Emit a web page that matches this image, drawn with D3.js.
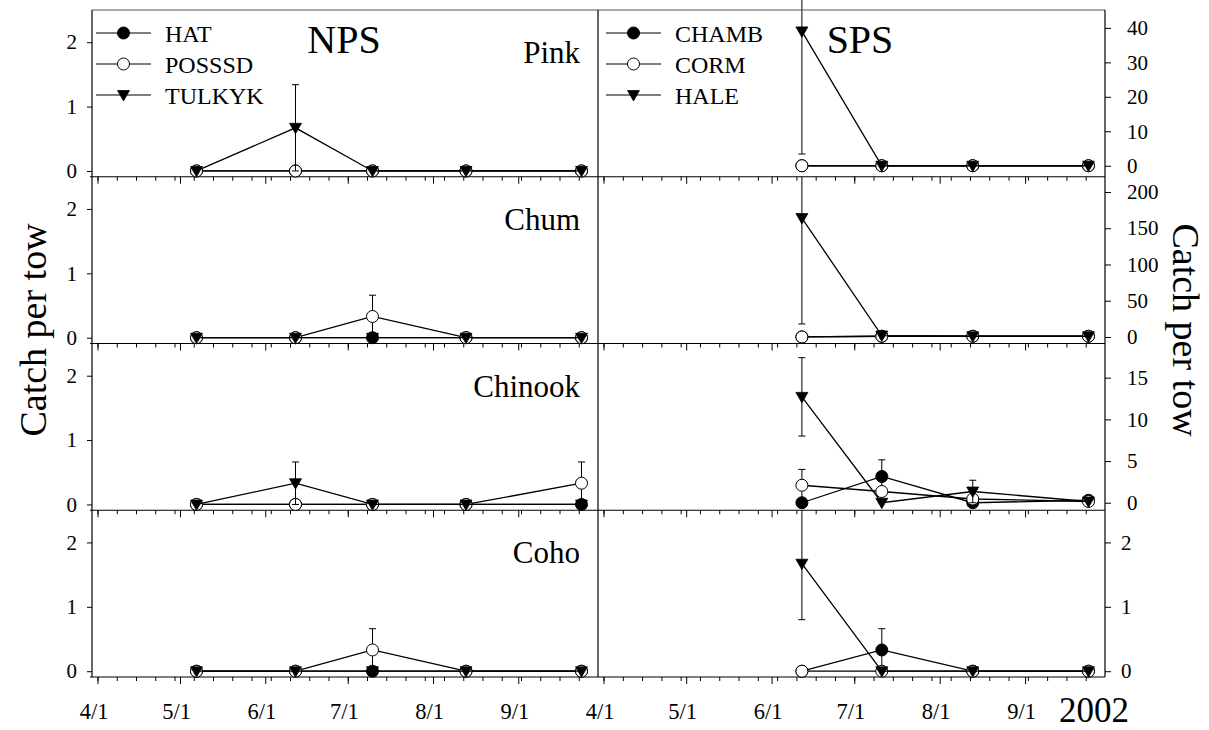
<!DOCTYPE html>
<html>
<head>
<meta charset="utf-8">
<script src="https://cdn.jsdelivr.net/npm/d3@7"></script>
<style>
  body { margin: 0; background: #fff; }
</style>
</head>
<body>
<svg id="chart" width="1209" height="730"></svg>
<script>
// sampling dates
var npsDates = ["2002-05-07", "2002-06-12", "2002-07-10", "2002-08-13", "2002-09-24"];
var spsDates = ["2002-06-12", "2002-07-11", "2002-08-13", "2002-09-24"];

var species = ["Pink", "Chum", "Chinook", "Coho"];
var npsSites = ["HAT", "POSSSD", "TULKYK"];
var spsSites = ["CHAMB", "CORM", "HALE"];

// NPS means and SE, one row per site (HAT, POSSSD, TULKYK)
var pinkNpsMean = [[0, 0, 0, 0, 0], [0, 0, 0, 0, 0], [0, 0.67, 0, 0, 0]];
var pinkNpsSE   = [[0, 0, 0, 0, 0], [0, 0, 0, 0, 0], [0, 0.67, 0, 0, 0]];
var chumNpsMean = [[0, 0, 0, 0, 0], [0, 0, 0.33, 0, 0], [0, 0, 0, 0, 0]];
var chumNpsSE   = [[0, 0, 0, 0, 0], [0, 0, 0.33, 0, 0], [0, 0, 0, 0, 0]];
var chinNpsMean = [[0, 0, 0, 0, 0], [0, 0, 0, 0, 0.33], [0, 0.33, 0, 0, 0]];
var chinNpsSE   = [[0, 0, 0, 0, 0], [0, 0, 0, 0, 0.33], [0, 0.33, 0, 0, 0]];
var cohoNpsMean = [[0, 0, 0, 0, 0], [0, 0, 0.33, 0, 0], [0, 0, 0, 0, 0]];
var cohoNpsSE   = [[0, 0, 0, 0, 0], [0, 0, 0.33, 0, 0], [0, 0, 0, 0, 0]];

// SPS means and SE, one row per site (CHAMB, CORM, HALE)
var pinkSpsMean = [[0, 0, 0, 0], [0, 0, 0, 0], [39, 0, 0, 0]];
var pinkSpsSE   = [[0, 0, 0, 0], [0, 0, 0, 0], [35.6, 0, 0, 0]];
var chumSpsMean = [[0, 1, 1, 1], [0, 1, 1, 1], [164, 2, 1, 1]];
var chumSpsSE   = [[0, 0, 0, 0], [0, 0, 0, 0], [146, 0, 0, 0]];
var chinSpsMean = [[0, 3.15, 0, 0.3], [2.1, 1.35, 0.45, 0.15], [12.7, 0, 1.35, 0.15]];
var chinSpsSE   = [[0, 2, 0, 0], [1.9, 0, 0, 0], [4.7, 0, 1.35, 0]];
var cohoSpsMean = [[0, 0.33, 0, 0], [0, 0, 0, 0], [1.67, 0, 0, 0]];
var cohoSpsSE   = [[0, 0.33, 0, 0], [0, 0, 0, 0], [0.87, 0, 0, 0]];

// y axis domains and ticks
var npsDomain = [-0.09, 2.5];
var npsTicks = [0, 1, 2];
var spsDomains = [[-3.2, 45.2], [-9, 221], [-0.9, 19.1], [-0.09, 2.5]];
var spsTicks = [[0, 10, 20, 30, 40], [0, 50, 100, 150, 200], [0, 5, 10, 15], [0, 1, 2]];

var monthTicks = ["2002-04-01", "2002-05-01", "2002-06-01", "2002-07-01", "2002-08-01", "2002-09-01"];

var npsMeans = [pinkNpsMean, chumNpsMean, chinNpsMean, cohoNpsMean];
var npsSEs = [pinkNpsSE, chumNpsSE, chinNpsSE, cohoNpsSE];
var spsMeans = [pinkSpsMean, chumSpsMean, chinSpsMean, cohoSpsMean];
var spsSEs = [pinkSpsSE, chumSpsSE, chinSpsSE, cohoSpsSE];

var FONT = "'Liberation Serif', 'Times New Roman', Times, serif";
var parse = d3.timeParse("%Y-%m-%d");
var svg = d3.select("#chart");

var top0 = 10, rowH = 166.75;
var leftX = [92, 598], rightX = [598, 1105];
var xDomain = [new Date(2002, 2, 30), new Date(2002, 8, 30)];

var xLeft = d3.scaleTime().domain(xDomain).range(leftX);
var xRight = d3.scaleTime().domain(xDomain).range(rightX);

var months = monthTicks.map(parse);
var weeks = d3.timeMonday.range(new Date(2002, 3, 1), new Date(2002, 8, 30));

var triangle = d3.symbol().type(d3.symbolTriangle).size(62);
var clipId = 0;

function drawMarker(g, kind, cx, cy) {
  if (kind == 0) {
    g.append("circle").attr("cx", cx).attr("cy", cy).attr("r", 6)
      .attr("fill", "#000").attr("stroke", "#000");
  } else if (kind == 1) {
    g.append("circle").attr("cx", cx).attr("cy", cy).attr("r", 6)
      .attr("fill", "#fff").attr("stroke", "#000").attr("stroke-width", 1);
  } else {
    g.append("path").attr("d", triangle)
      .attr("transform", "translate(" + cx + "," + (cy - 1) + ") rotate(180)")
      .attr("fill", "#000").attr("stroke", "#000").attr("stroke-width", 0.8);
  }
}

function drawPanel(x, y, dates, means, ses, clipTop, clipBottom) {
  var g = svg.append("g");
  var id = "clip" + (clipId++);
  svg.append("clipPath").attr("id", id).append("rect")
    .attr("x", 0).attr("y", clipTop).attr("width", 1209).attr("height", clipBottom - clipTop);
  var xs = dates.map(parse);
  means.forEach(function(vals, s) {
    // error bars
    var eg = g.append("g").attr("clip-path", "url(#" + id + ")");
    vals.forEach(function(v, i) {
      var se = ses[s][i];
      if (!se) return;
      var px = x(xs[i]);
      eg.append("line").attr("x1", px).attr("x2", px)
        .attr("y1", y(v - se)).attr("y2", y(v + se))
        .attr("stroke", "#000").attr("stroke-width", 1);
      [v - se, v + se].forEach(function(e) {
        eg.append("line").attr("x1", px - 3.5).attr("x2", px + 3.5)
          .attr("y1", y(e)).attr("y2", y(e))
          .attr("stroke", "#000").attr("stroke-width", 1);
      });
    });
    var line = d3.line()
      .x(function(d, i) { return x(xs[i]); })
      .y(function(d) { return y(d); });
    g.append("path").attr("d", line(vals))
      .attr("fill", "none").attr("stroke", "#000").attr("stroke-width", 1.3);
    vals.forEach(function(v, i) {
      drawMarker(g, s, x(xs[i]), y(v));
    });
  });
}

function styleAxis(g, size) {
  g.select(".domain").remove();
  g.attr("font-family", null);
  g.selectAll(".tick line").attr("stroke", "#000");
  g.selectAll(".tick text").style("font-size", size + "px");
}

species.forEach(function(sp, r) {
  var y0 = top0 + r * rowH, y1 = y0 + rowH;

  var yL = d3.scaleLinear().domain(npsDomain).range([y1, y0]);
  var yR = d3.scaleLinear().domain(spsDomains[r]).range([y1, y0]);

  // y axes
  var gl = svg.append("g").attr("transform", "translate(" + leftX[0] + ",0)")
    .call(d3.axisLeft(yL).tickValues(npsTicks).tickSize(5).tickPadding(10).tickFormat(d3.format("d")));
  styleAxis(gl, 21);
  var gr = svg.append("g").attr("transform", "translate(" + rightX[1] + ",0)")
    .call(d3.axisRight(yR).tickValues(spsTicks[r]).tickSize(6).tickPadding(r == 3 ? 10 : 16).tickFormat(d3.format("d")));
  styleAxis(gr, 21);

  // x axes at bottom of each row
  [xLeft, xRight].forEach(function(x) {
    var gm = svg.append("g").attr("transform", "translate(0," + y1 + ")")
      .call(d3.axisBottom(x).tickValues(weeks).tickSize(4).tickFormat(""));
    styleAxis(gm, 19);
    var gM = svg.append("g").attr("transform", "translate(0," + y1 + ")")
      .call(d3.axisBottom(x).tickValues(months).tickSize(7).tickPadding(19)
        .tickFormat(r == 3 ? d3.timeFormat("%-m/%-d") : ""));
    styleAxis(gM, 22.5);
    gM.selectAll(".tick text").attr("dx", -4);
  });

  // row bottom line
  svg.append("line").attr("x1", leftX[0] - 2).attr("x2", rightX[1])
    .attr("y1", y1).attr("y2", y1).attr("stroke", "#000").attr("stroke-width", 1.2);

  var clipTop = r == 0 ? -100 : y0;
  drawPanel(xLeft, yL, npsDates, npsMeans[r], npsSEs[r], clipTop, y1);
  drawPanel(xRight, yR, spsDates, spsMeans[r], spsSEs[r], clipTop, y1);

  svg.append("text").attr("x", 580).attr("y", y0 + 53)
    .attr("text-anchor", "end").style("font-size", "31px").text(sp);
});

var bottom = top0 + 4 * rowH;
svg.append("line").attr("x1", leftX[0]).attr("x2", rightX[1]).attr("y1", top0).attr("y2", top0)
  .attr("stroke", "#555").attr("stroke-width", 1);
[leftX[0], leftX[1], rightX[1]].forEach(function(px) {
  svg.append("line").attr("x1", px).attr("x2", px).attr("y1", top0).attr("y2", bottom)
    .attr("stroke", "#000").attr("stroke-width", 1.2);
});

// year label
svg.append("text").attr("x", 1094).attr("y", 722).attr("text-anchor", "middle")
  .style("font-size", "35px").text("2002");

// region titles
svg.append("text").attr("x", 344).attr("y", 53).attr("text-anchor", "middle")
  .style("font-size", "40px").text("NPS");
svg.append("text").attr("x", 860).attr("y", 53).attr("text-anchor", "middle")
  .style("font-size", "40px").text("SPS");

// legends
function legend(sites, x0) {
  sites.forEach(function(name, i) {
    var ly = 33 + i * 31;
    var g = svg.append("g");
    g.append("line").attr("x1", x0).attr("x2", x0 + 55).attr("y1", ly).attr("y2", ly)
      .attr("stroke", "#000").attr("stroke-width", 1.1);
    drawMarker(g, i, x0 + 27.5, ly);
    g.append("text").attr("x", x0 + 69).attr("y", ly + 8.5)
      .style("font-size", "24px").text(name);
  });
}
legend(npsSites, 96);
legend(spsSites, 606);

// axis titles
svg.append("text").attr("transform", "translate(46,330) rotate(-90)")
  .attr("text-anchor", "middle").style("font-size", "38px").text("Catch per tow");
svg.append("text").attr("transform", "translate(1173,330) rotate(90)")
  .attr("text-anchor", "middle").style("font-size", "38px").text("Catch per tow");

svg.selectAll("text").style("font-family", FONT).style("fill", "#000");
</script>
</body>
</html>
